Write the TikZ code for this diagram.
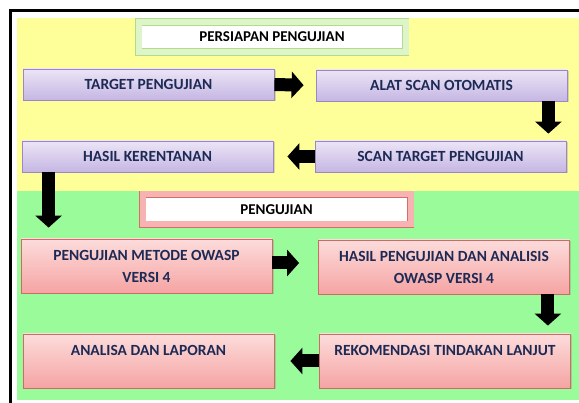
\documentclass[tikz,border=0pt]{standalone}
\usepackage{fontspec}
\setmainfont{Carlito}
\usetikzlibrary{arrows.meta, shadows}
\definecolor{bgyellow}{HTML}{FFFF99}
\definecolor{bggreen}{HTML}{99FB99}
\definecolor{lavtop}{HTML}{ECE5F6}
\definecolor{lavbot}{HTML}{C5B6E3}
\definecolor{lavedge}{HTML}{9A87C4}
\definecolor{pinktop}{HTML}{FCDCDB}
\definecolor{pinkbot}{HTML}{F5A4A3}
\definecolor{pinkedge}{HTML}{CF6A67}
\definecolor{sagetop}{HTML}{DDF5C8}
\definecolor{sageedge}{HTML}{B2DB8C}
\definecolor{rosetop}{HTML}{F7B3B2}
\definecolor{roseedge}{HTML}{D46E6B}
\definecolor{navy}{HTML}{1D2A55}

\begin{document}
\begin{tikzpicture}[x=1pt, y=-1pt,
  box/.style={minimum width=251pt, inner sep=2pt, align=center, text=navy,
    font=\fontsize{15.5}{22}\selectfont\bfseries,
    drop shadow={opacity=0.3, shadow xshift=1.5pt, shadow yshift=-1.5pt}},
  ungu/.style={box, minimum height=31pt, draw=lavedge, line width=0.8pt,
    top color=lavtop, bottom color=lavbot},
  merah/.style={box, minimum height=54pt, draw=pinkedge, line width=0.8pt,
    top color=pinktop, bottom color=pinkbot},
  judul/.style={fill=white, line width=0.6pt, double distance=6pt,
    minimum height=30pt, inner sep=1pt, font=\fontsize{15}{17}\selectfont\bfseries,
    drop shadow={opacity=0.3, shadow xshift=1.5pt, shadow yshift=-1.5pt}},
  blok/.style={line width=13pt, -{Triangle[length=12pt, width=26pt]}}]

\useasboundingbox (0,0) rectangle (579,403);

% Background
\fill[white] (0,0) rectangle (579,403);
\fill[bgyellow] (17,18) rectangle (579,191);
\fill[bggreen] (17,191) rectangle (579,400);
\draw[black, line width=3pt] (10.5,403) -- (10.5,10.5) -- (579,10.5);

% --- Persiapan pengujian ---
\node[judul, draw=sageedge, double=sagetop, minimum width=267pt] (judulA) at (272,37) {PERSIAPAN PENGUJIAN};

\node[ungu] (target) at (148.5,84.5) {TARGET PENGUJIAN};
\node[ungu] (alat) at (441.5,85.5) {ALAT SCAN OTOMATIS};
\node[ungu] (scan) at (440.5,156.5) {SCAN TARGET PENGUJIAN};
\node[ungu] (rentan) at (147.5,156.5) {HASIL KERENTANAN};

% --- Pengujian ---
\node[judul, draw=roseedge, double=rosetop, minimum width=268pt] (judulB) at (276.5,209.5) {PENGUJIAN};

\node[merah] (owasp) at (146.5,266) {PENGUJIAN METODE OWASP\\VERSI 4};
\node[merah] (hasiluji) at (444,267) {HASIL PENGUJIAN DAN ANALISIS\\OWASP VERSI 4};
\node[merah] (rekom) at (445,361) {REKOMENDASI TINDAKAN LANJUT\\\mbox{}};
\node[merah] (lapor) at (148.5,361) {ANALISA DAN LAPORAN\\\mbox{}};

% Arrows
\draw[blok, shorten >=12pt] (target.east) -- (alat.west);
\draw[blok, shorten >=7pt] ([xshift=-19pt]alat.south east) -- ([xshift=-18pt]scan.north east);
\draw[blok, shorten >=14pt] (scan.west) -- (rentan.east);
\draw[blok, shorten >=11pt] ([xshift=27pt]rentan.south west) -- ([xshift=28pt]owasp.north west);
\draw[blok, shorten >=19pt] ([yshift=3pt]owasp.east) -- ([yshift=3pt]owasp.east -| hasiluji.west);
\draw[blok, shorten >=8pt] ([xshift=-22pt]hasiluji.south east) -- ([xshift=-23pt]rekom.north east);
\draw[blok, shorten >=16pt] (rekom.west) -- (lapor.east);

\end{tikzpicture}
\end{document}
